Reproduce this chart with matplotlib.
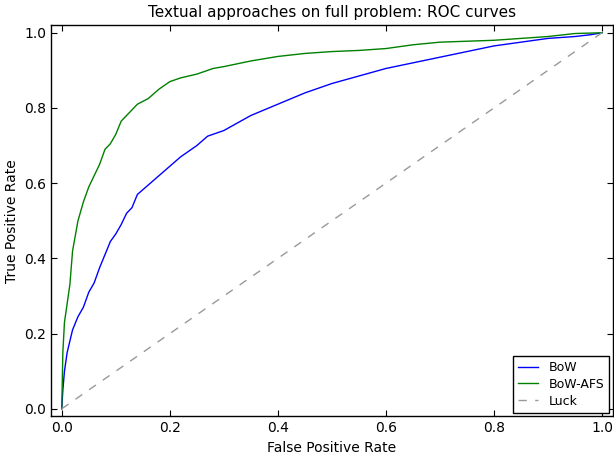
import numpy as np
import matplotlib
matplotlib.use("Agg")
import matplotlib.pyplot as plt

# ROC curve points
bow_fpr = [0.0, 0.002, 0.005, 0.01, 0.015, 0.02, 0.03, 0.04, 0.05, 0.06, 0.07,
           0.08, 0.09, 0.10, 0.11, 0.12, 0.13, 0.14, 0.16, 0.18, 0.20, 0.22,
           0.25, 0.27, 0.30, 0.35, 0.40, 0.45, 0.50, 0.55, 0.60, 0.65, 0.70,
           0.75, 0.80, 0.85, 0.90, 0.95, 0.98, 1.0]
bow_tpr = [0.0, 0.05, 0.10, 0.15, 0.18, 0.21, 0.245, 0.27, 0.31, 0.335, 0.375,
           0.41, 0.445, 0.465, 0.49, 0.52, 0.535, 0.57, 0.595, 0.62, 0.645, 0.67,
           0.70, 0.725, 0.74, 0.78, 0.81, 0.84, 0.865, 0.885, 0.905, 0.92, 0.935,
           0.95, 0.965, 0.975, 0.985, 0.99, 0.995, 1.0]

afs_fpr = [0.0, 0.002, 0.005, 0.01, 0.015, 0.02, 0.025, 0.03, 0.04, 0.05, 0.06,
           0.07, 0.08, 0.09, 0.10, 0.11, 0.12, 0.13, 0.14, 0.16, 0.18, 0.20,
           0.22, 0.25, 0.28, 0.30, 0.35, 0.40, 0.45, 0.50, 0.55, 0.60, 0.65,
           0.70, 0.80, 0.85, 0.90, 0.95, 1.0]
afs_tpr = [0.0, 0.15, 0.23, 0.28, 0.33, 0.42, 0.46, 0.50, 0.55, 0.59, 0.62,
           0.65, 0.69, 0.705, 0.73, 0.765, 0.78, 0.795, 0.81, 0.825, 0.85, 0.87,
           0.88, 0.89, 0.905, 0.91, 0.925, 0.937, 0.945, 0.95, 0.953, 0.958, 0.968,
           0.975, 0.98, 0.985, 0.99, 0.998, 1.0]

luck = [0.0, 1.0]

fig, ax = plt.subplots(figsize=(6.14, 4.59), dpi=100)
ax.plot(bow_fpr, bow_tpr, color=(0, 0, 1), lw=1.0, label="BoW")
ax.plot(afs_fpr, afs_tpr, color=(0, 0.5, 0), lw=1.0, label="BoW-AFS")
ax.plot(luck, luck, "--", dashes=(6, 6), color=(0.6, 0.6, 0.6), lw=1.0, label="Luck")

ax.set_xlim(-0.02, 1.02)
ax.set_ylim(-0.02, 1.02)
ax.set_xticks(np.arange(0, 1.01, 0.2))
ax.set_yticks(np.arange(0, 1.01, 0.2))
ax.tick_params(direction="in", top=True, right=True, labelsize=10, length=4)
for s in ax.spines.values():
    s.set_linewidth(1.0)
ax.set_xlabel("False Positive Rate", fontsize=10)
ax.set_ylabel("True Positive Rate", fontsize=10)
ax.set_title("Textual approaches on full problem: ROC curves", fontsize=11)
leg = ax.legend(loc="lower right", fontsize=9, fancybox=False, framealpha=1,
                handlelength=1.6, borderaxespad=0.3, labelspacing=0.3)
leg.get_frame().set_edgecolor("black")

fig.subplots_adjust(left=0.083, right=0.998, bottom=0.093, top=0.945)
fig.savefig("out.png", dpi=100)
